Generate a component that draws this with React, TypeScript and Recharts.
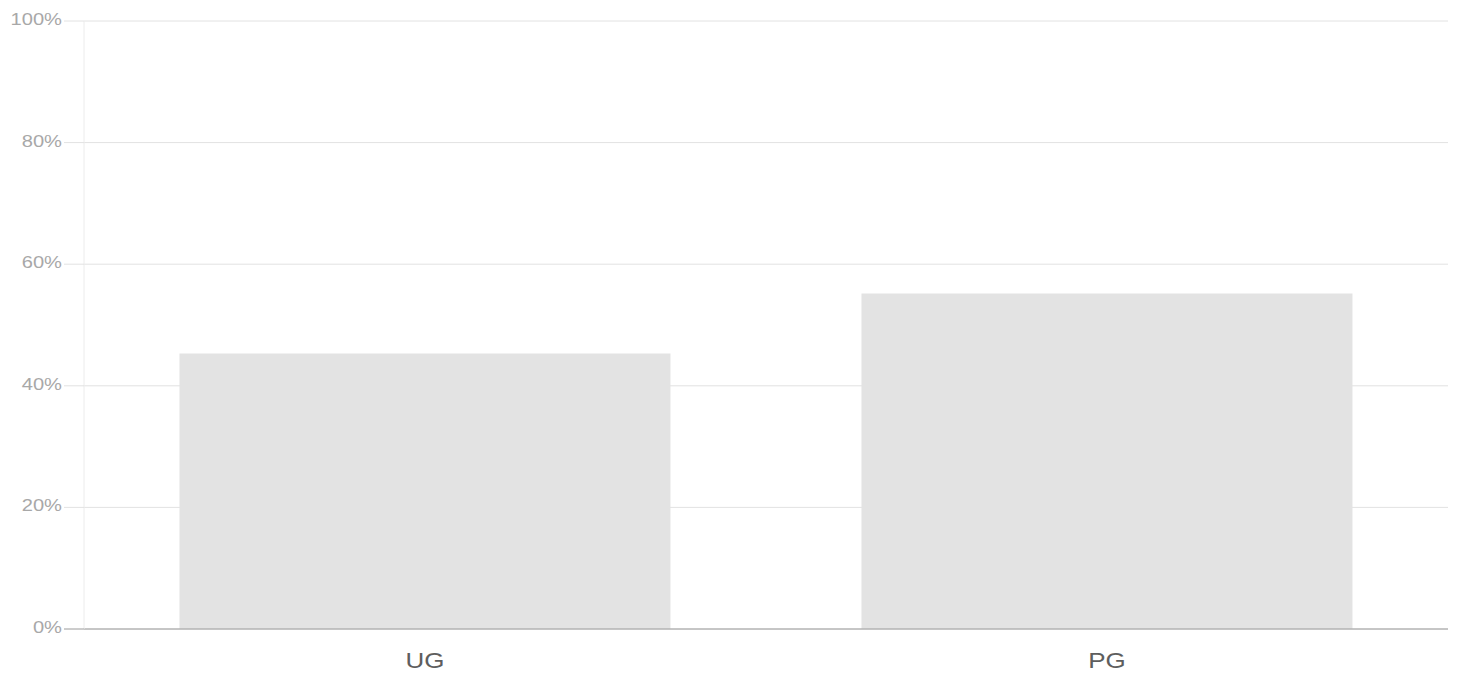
import React from "react";
import { BarChart, Bar, XAxis, YAxis, CartesianGrid } from "recharts";

const categories = ["UG", "PG"];
const shares = [45.3, 55.2];
const yTicks = [0, 20, 40, 60, 80, 100];

const data = categories.map((c, i) => ({ name: c, value: shares[i] }));

const YTick = (props: any) => {
  const { x, y, payload } = props;
  const isZero = payload.value === 0;
  return (
    <g>
      <line x1={x + 2} x2={x + 22} y1={y} y2={y} stroke={isZero ? "#9a9a9a" : "#e2e2e2"} strokeWidth={1} />
      <text
        transform={`translate(${x}, ${y + 4}) scale(1.22, 1)`}
        textAnchor="end"
        fill="#a8a8a8"
        fontSize={16.5}
        fontFamily="'Liberation Sans', Arial, sans-serif"
      >
        {payload.value + "%"}
      </text>
    </g>
  );
};

const XTick = (props: any) => {
  const { x, y, payload } = props;
  return (
    <text
      transform={`translate(${x}, ${y + 39}) scale(1.18, 1)`}
      textAnchor="middle"
      fill="#5e5e5e"
      fontSize={22}
      fontFamily="'Liberation Sans', Arial, sans-serif"
    >
      {payload.value}
    </text>
  );
};

export default function App() {
  return (
    <div style={{ position: "absolute", left: 0, top: 0, width: 1461, height: 683, background: "#fff" }}>
      <BarChart
        width={1461}
        height={683}
        data={data}
        margin={{ top: 21, right: 13, bottom: 24, left: 0 }}
        barCategoryGap="14%"
      >
        <CartesianGrid vertical={false} stroke="#e2e2e2" />
        <XAxis
          dataKey="name"
          height={30}
          axisLine={{ stroke: "#9a9a9a" }}
          tickLine={false}
          tickSize={0}
          tickMargin={0}
          tick={<XTick />}
          interval={0}
        />
        <YAxis
          width={84}
          domain={[0, 100]}
          ticks={yTicks}
          axisLine={{ stroke: "#ececec" }}
          tickLine={false}
          tickSize={20}
          tickMargin={2}
          tick={<YTick />}
          interval={0}
        />
        <Bar dataKey="value" fill="#e3e3e3" isAnimationActive={false} />
      </BarChart>
    </div>
  );
}
